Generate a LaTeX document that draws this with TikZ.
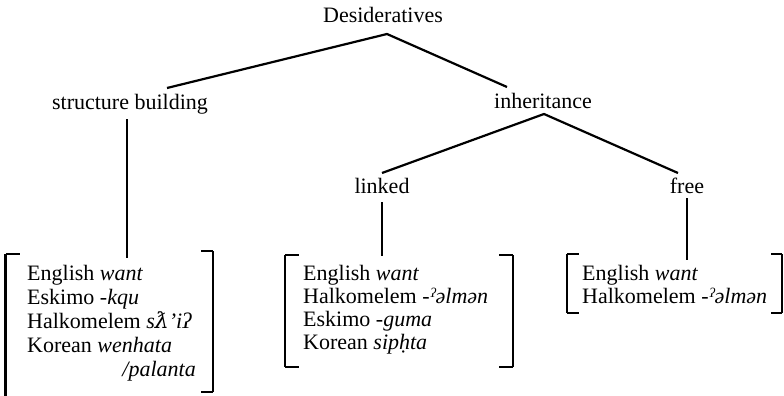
\documentclass[tikz,border=0pt]{standalone}
\usepackage{fontspec}
\setmainfont{Liberation Serif}
\newfontfamily\ipafont{DejaVu Serif}
\begin{document}
\begin{tikzpicture}[x=1pt,y=-1pt,
  lbl/.style={inner sep=0pt,anchor=base,font=\fontsize{22}{24}\selectfont},
  row/.style={inner sep=0pt,anchor=base west,font=\fontsize{22}{24}\selectfont},
  edge/.style={line width=2.2pt},
  brk/.style={line width=2.2pt},
  tick/.style={line width=1.4pt}]
\useasboundingbox (0,0) rectangle (784,396);
% tree labels
\node[lbl] (des) at (383,23) {Desideratives};
\node[lbl] (sb) at (130,109) {structure building};
\node[lbl] (inh) at (543,108) {inheritance};
\node[lbl] (lnk) at (382,193) {linked};
\node[lbl] (fre) at (687,193) {free};
% connector points
\coordinate (dA) at (387,34);
\coordinate (sbT) at (167,88);
\coordinate (inhT) at (507,87);
\coordinate (iA) at (544,114);
\coordinate (lT) at (382,173);
\coordinate (fT) at (678,173);
\coordinate (sbB) at (127,119);
\coordinate (sbE) at (127,258);
\coordinate (lB) at (382,202);
\coordinate (lE) at (382,256);
\coordinate (fB) at (687,198);
\coordinate (fE) at (687,260);
\draw[edge] (sbT) -- (dA) -- (inhT);
\draw[edge] (lT) -- (iA) -- (fT);
\draw[edge] (sbB) -- (sbE);
\draw[edge] (lB) -- (lE);
\draw[edge] (fB) -- (fE);
% left box
\node[row] (a1) at (27,280) {English \textit{want}};
\node[row] (a2) at (27,304) {Eskimo -\textit{kqu}};
\node[row] (a3) at (27,328) {Halkomelem \textit{s{\ipafont ƛ}\char"0027 iʔ}};
\node[row] (a4) at (27,352) {Korean \textit{wenhata}};
\node[inner sep=0pt,anchor=base east,font=\fontsize{22}{24}\selectfont] (a5) at (196,376) {\textit{/palanta}};
\draw[brk] (5.5,397) -- (5.5,254);
\draw[tick] (5.5,254) -- (20,254);
\draw[brk] (213,251) -- (213,392);
\draw[tick] (213,251) -- (201,251);
\draw[tick] (213,392) -- (201,392);
% middle box
\node[row] (b1) at (303,280) {English \textit{want}};
\node[row] (b2) at (303,303) {Halkomelem -\textit{ˀəlmən}};
\node[row] (b3) at (303,326) {Eskimo -\textit{guma}};
\node[row] (b4) at (303,349) {Korean \textit{sipḥta}};
\draw[brk] (285,255) -- (285,367);
\draw[tick] (285,255) -- (299,255);
\draw[tick] (285,367) -- (299,367);
\draw[brk] (513,255) -- (513,367);
\draw[tick] (513,255) -- (499,255);
\draw[tick] (513,367) -- (499,367);
% right box
\node[row] (c1) at (582,280) {English \textit{want}};
\node[row] (c2) at (582,303) {Halkomelem -\textit{ˀəlmən}};
\draw[brk] (567,254) -- (567,313);
\draw[tick] (567,254) -- (579,254);
\draw[tick] (567,313) -- (579,313);
\draw[brk] (782,254) -- (782,313);
\draw[tick] (782,254) -- (771,254);
\draw[tick] (782,313) -- (771,313);
\end{tikzpicture}
\end{document}
